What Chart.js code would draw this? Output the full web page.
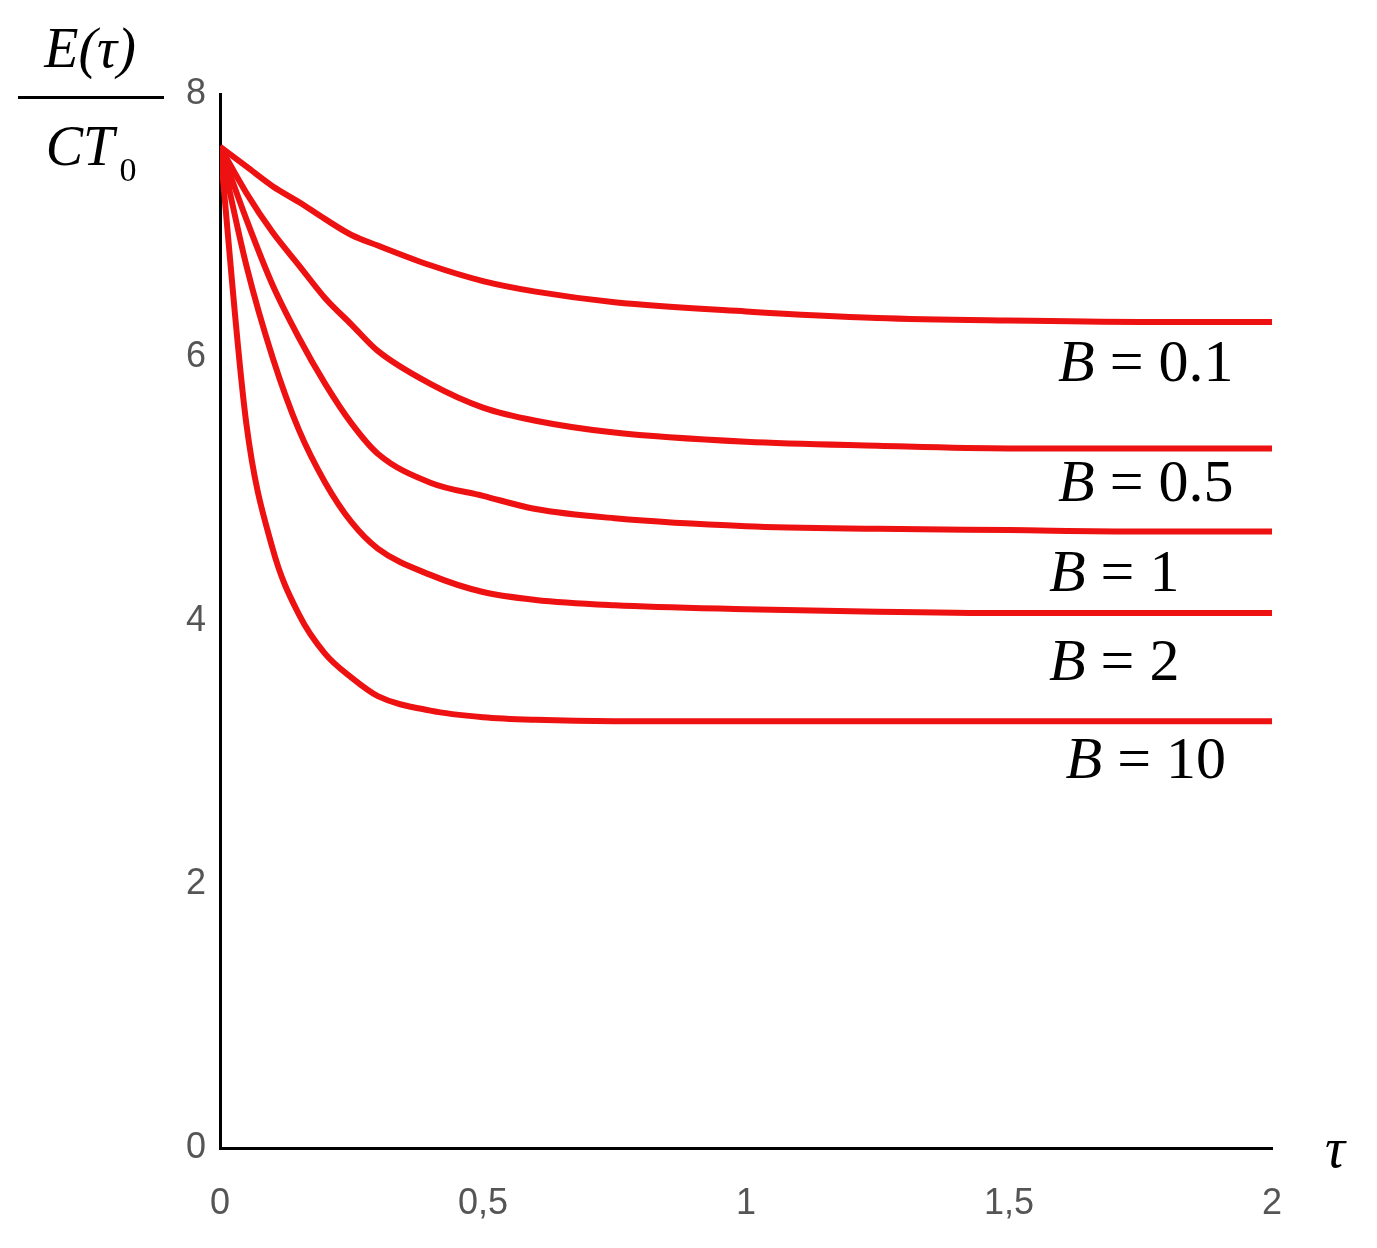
<!DOCTYPE html>
<html>
<head>
<meta charset="utf-8">
<script src="https://cdn.jsdelivr.net/npm/chart.js@4"></script>
<style>
  body { margin: 0; background: #fff; }
  #wrap { width: 1377px; height: 1248px; }
</style>
</head>
<body>
<div id="wrap"><canvas id="chart" width="1377" height="1248"></canvas></div>
<script>
// valores
const tau = [0, 0.05, 0.1, 0.15, 0.2, 0.25, 0.3, 0.4, 0.5, 0.6, 0.75, 1, 1.25, 1.5, 1.75, 2];
const b01 = [7.6, 7.45, 7.3, 7.18, 7.05, 6.93, 6.85, 6.7, 6.58, 6.5, 6.42, 6.35, 6.3, 6.28, 6.27, 6.27];
const b05 = [7.6, 7.25, 6.95, 6.7, 6.45, 6.25, 6.05, 5.8, 5.62, 5.52, 5.43, 5.36, 5.33, 5.31, 5.31, 5.31];
const b1 = [7.6, 7.05, 6.55, 6.15, 5.8, 5.5, 5.27, 5.05, 4.95, 4.85, 4.78, 4.72, 4.7, 4.69, 4.68, 4.68];
const b2 = [7.6, 6.7, 6.0, 5.45, 5.05, 4.75, 4.55, 4.35, 4.22, 4.16, 4.12, 4.09, 4.07, 4.06, 4.06, 4.06];
const b10 = [7.6, 5.5, 4.55, 4.05, 3.75, 3.57, 3.43, 3.32, 3.27, 3.25, 3.24, 3.24, 3.24, 3.24, 3.24, 3.24];
const seriesNames = ['0.1', '0.5', '1', '2', '10'];
const labelPos = [[1.76, 5.94], [1.76, 5.03], [1.7, 4.35], [1.7, 3.67], [1.76, 2.93]];

const allSeries = [b01, b05, b1, b2, b10];

const datasets = allSeries.map((s, i) => ({
    label: 'B = ' + seriesNames[i],
    data: s.map((v, j) => ({ x: tau[j], y: v })),
    borderColor: '#ee1111',
    borderWidth: 6,
    pointRadius: 0,
    fill: false,
    cubicInterpolationMode: 'monotone'
}));

// rótulos e títulos dos eixos
const annotations = {
    id: 'annotations',
    afterDraw(chart) {
        const ctx = chart.ctx;
        const xs = chart.scales.x, ys = chart.scales.y;
        ctx.save();
        ctx.fillStyle = '#000';
        ctx.textBaseline = 'middle';
        labelPos.forEach((p, i) => {
            const px = xs.getPixelForValue(p[0]);
            const py = ys.getPixelForValue(p[1]);
            ctx.font = 'italic 60px "Liberation Serif"';
            const wB = ctx.measureText('B').width;
            ctx.font = '60px "Liberation Serif"';
            const rest = ' = ' + seriesNames[i];
            const wR = ctx.measureText(rest).width;
            const x0 = px - (wB + wR) / 2;
            ctx.font = 'italic 60px "Liberation Serif"';
            ctx.textAlign = 'left';
            ctx.fillText('B', x0, py);
            ctx.font = '60px "Liberation Serif"';
            ctx.fillText(rest, x0 + wB, py);
        });
        // E(τ)/CT0
        ctx.textAlign = 'center';
        ctx.font = 'italic 56px "Liberation Serif"';
        ctx.fillText('E(τ)', 90, 52);
        ctx.fillRect(18, 96, 146, 3);
        ctx.fillText('CT', 80, 150);
        ctx.font = '34px "Liberation Serif"';
        ctx.fillText('0', 128, 172);
        ctx.font = 'italic 56px "Liberation Serif"';
        ctx.fillText('τ', 1335, 1152);
        ctx.restore();
    }
};

new Chart(document.getElementById('chart'), {
    type: 'line',
    data: { datasets: datasets },
    options: {
        responsive: false,
        animation: false,
        layout: { padding: { top: 94, right: 105, left: 0, bottom: 0 } },
        plugins: { legend: { display: false }, tooltip: { enabled: false } },
        scales: {
            x: {
                type: 'linear', min: 0, max: 2,
                grid: { display: false, drawTicks: false },
                border: { color: '#000', width: 3 },
                ticks: {
                    stepSize: 0.5, color: '#555', padding: 34,
                    font: { size: 36, family: 'Liberation Sans' },
                    callback: v => String(v).replace('.', ',')
                },
                afterFit: s => { s.height = 100; }
            },
            y: {
                min: 0, max: 8,
                grid: { display: false, drawTicks: false },
                border: { color: '#000', width: 3 },
                ticks: {
                    stepSize: 2, color: '#555', padding: 14,
                    font: { size: 36, family: 'Liberation Sans' }
                },
                afterFit: s => { s.width = 220; }
            }
        }
    },
    plugins: [annotations]
});
</script>
</body>
</html>
